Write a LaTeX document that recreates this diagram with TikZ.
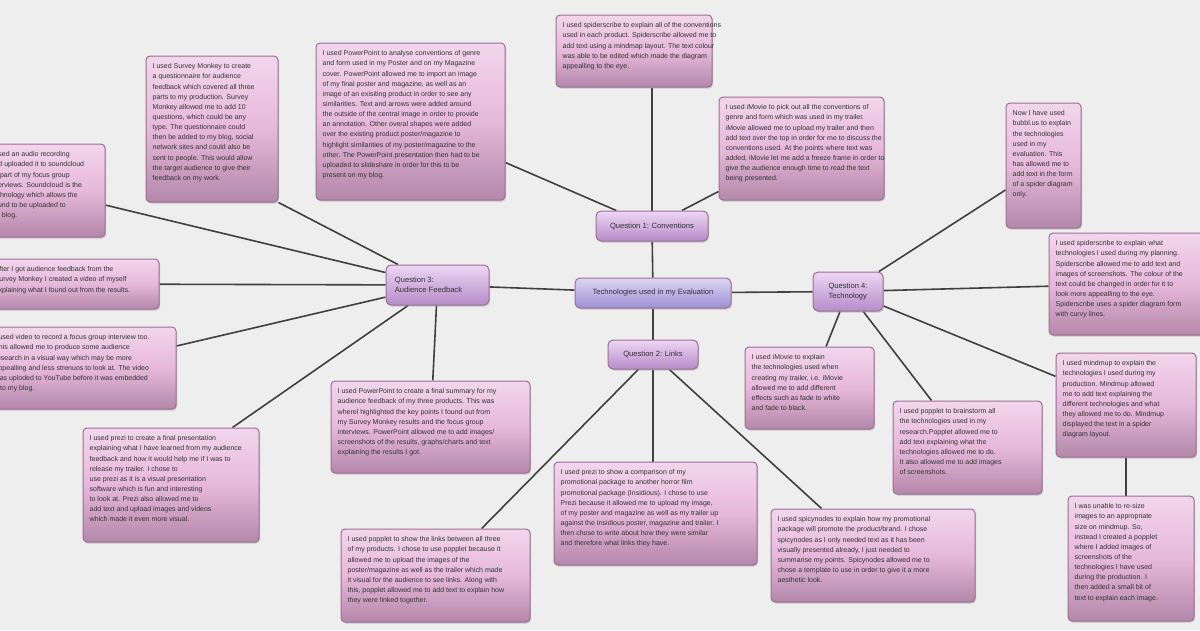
\documentclass[tikz,border=0pt]{standalone}
\usepackage{fontspec}
\setmainfont{Liberation Sans}
\usetikzlibrary{shadows,calc}
\pgfdeclarelayer{back}
\pgfdeclarelayer{edges}
\pgfsetlayers{back,edges,main}
\definecolor{bg}{HTML}{EEEEEE}
\definecolor{edgec}{HTML}{404040}
\definecolor{boxtop}{HTML}{F2D6EC}
\definecolor{boxmid}{HTML}{E6B8DA}
\definecolor{boxbot}{HTML}{B488AA}
\definecolor{boxdraw}{HTML}{9E6E92}
\definecolor{qtop}{HTML}{EED6F4}
\definecolor{qbot}{HTML}{B58CC8}
\definecolor{ctop}{HTML}{DCD6F6}
\definecolor{cbot}{HTML}{9C90D2}
\tikzset{
 x=1pt,y=-1pt,
 box/.style={draw=boxdraw,line width=1pt,rounded corners=4pt,top color=boxtop,bottom color=boxbot,middle color=boxmid,
   drop shadow={shadow xshift=1pt,shadow yshift=-1.5pt,opacity=0.35},inner sep=0pt},
 qbox/.style={draw=boxdraw,line width=1pt,rounded corners=5pt,top color=qtop,bottom color=qbot,
   drop shadow={shadow xshift=1pt,shadow yshift=-1.5pt,opacity=0.35},inner sep=0pt,font=\fontsize{7.6}{10.4}\selectfont,text=black!80,align=left},
 cbox/.style={qbox,top color=ctop,bottom color=cbot},
 txt/.style={anchor=north west,align=left,inner sep=0pt,font=\fontsize{7.0}{10.15}\selectfont,text=black!80},
 link/.style={draw=edgec,line width=1.6pt},
}
\newcommand{\mybox}[6]{% name x0 y0 x1 y1 text
 \node[box,minimum width={#4-#2},minimum height={#5-#3}] (#1) at ({(#2+#4)/2},{(#3+#5)/2}) {};
 \node[txt] at ($(#1.north west)+(7,8)$) {#6};}
\begin{document}
\begin{tikzpicture}
\begin{pgfonlayer}{back}
\fill[bg] (0,0) rectangle (1200,630);
\end{pgfonlayer}
\useasboundingbox (0,0) rectangle (1200,630);
\clip (0,0) rectangle (1200,630);
% topic nodes
\node[cbox,minimum width=156,minimum height=30] (c) at (653,293) {Technologies used in my Evaluation};
\node[qbox,minimum width=112,minimum height=30] (q1) at (652,226) {Question 1: Conventions};
\node[qbox,minimum width=90,minimum height=29] (q2) at (653,354.5) {Question 2: Links};
\node[qbox,minimum width=103,minimum height=40] (q3) at (437.5,285) {\hspace*{-20pt}Question 3:\\\hspace*{-20pt}Audience Feedback\hspace*{-2pt}};
\node[qbox,minimum width=70,minimum height=39] (q4) at (848,291.5) {Question 4:\\Technology};
% boxes
\mybox{b1}{146}{56}{278}{202}{I used Survey Monkey to create\\a questionnaire for audience\\feedback which covered all three\\parts to my production. Survey\\Monkey allowed me to add 10\\questions, which could be any\\type. The questionnaire could\\then be added to my blog, social\\network sites and could also be\\sent to people. This would allow\\the target audience to give their\\feedback on my work.}
\mybox{b2}{316}{43}{505}{200}{I used PowerPoint to analyse conventions of genre\\and form used in my Poster and on my Magazine\\cover. PowerPoint allowed me to import an image\\of my final poster and magazine, as well as an\\image of an exisiting product in order to see any\\similarities. Text and arrows were added around\\the outside of the central image in order to provide\\an annotation. Other overal shapes were added\\over the existing product poster/magazine to\\highlight similarities of my poster/magazine to the\\other. The PowerPoint presentation then had to be\\uploaded to slideshare in order for this to be\\present on my blog.}
\mybox{b3}{556}{15}{712}{87}{I used spiderscribe to explain all of the conventions\\used in each product. Spiderscribe allowed me to\\add text using a mindmap layout. The text colour\\was able to be edited which made the diagram\\appealling to the eye.}
\mybox{b4}{719}{97}{884}{200}{I used iMovie to pick out all the conventions of\\genre and form which was used in my trailer.\\iMovie allowed me to upload my trailer and then\\add text over the top in order for me to discuss the\\conventions used. At the points where text was\\added, iMovie let me add a freeze frame in order to\\give the audience enough time to read the text\\being presented.}
\mybox{b5}{1006}{103}{1081}{228}{Now I have used\\bubbl.us to explain\\the technologies\\used in my\\evaluation. This\\has allowed me to\\add text in the form\\of a spider diagram\\only.}
\mybox{b6}{1049}{233}{1215}{335}{I used spiderscribe to explain what\\technologies I used during my planning.\\Spiderscribe allowed me to add text and\\images of screenshots. The colour of the\\text could be changed in order for it to\\look more appealling to the eye.\\Spiderscribe uses a spider diagram form\\with curvy lines.}
\mybox{b7}{-16}{144}{105}{237}{I used an audio recording\\and uploaded it to soundcloud\\as part of my focus group\\interviews. Soundcloud is the\\technology which allows the\\sound to be uploaded to\\my blog.}
\mybox{b8}{-12}{259}{159}{309}{After I got audience feedback from the\\Survey Monkey I created a video of myself\\explaining what I found out from the results.}
\mybox{b9}{-12}{327}{176}{409}{I used video to record a focus group interview too.\\This allowed me to produce some audience\\research in a visual way which may be more\\appealling and less strenuos to look at. The video\\was uploded to YouTube before it was embedded\\into my blog.}
\mybox{b10}{331}{381}{530}{473}{I used PowerPoint to create a final summary for my\\audience feedback of my three products. This was\\wherel highlighted the key points I found out from\\my Survey Monkey results and the focus group\\interviews. PowerPoint allowed me to add images/\\screenshots of the results, graphs/charts and text\\explaining the results I got.}
\mybox{b11}{83}{428}{259}{542}{I used prezi to create a final presentation\\explaining what I have learned from my audience\\feedback and how it would help me if I was to\\release my trailer. I chose to\\use prezi as it is a visual presentation\\software which is fun and interesting\\to look at. Prezi also allowed me to\\add text and upload images and videos\\which made it even more visual.}
\mybox{b12}{341}{529}{530}{622}{I used popplet to show the links between all three\\of my products. I chose to use popplet because it\\allowed me to upload the images of the\\poster/magazine as well as the trailer which made\\it visual for the audience to see links. Along with\\this, popplet allowed me to add text to explain how\\they were linked together.}
\mybox{b13}{554}{462}{757}{565}{I used prezi to show a comparison of my\\promotional package to another horror film\\promotional package (Insidious). I chose to use\\Prezi because it allowed me to upload my image,\\of my poster and magazine as well as my trailer up\\against the Insidious poster, magazine and trailer. I\\then chose to write about how they were similar\\and therefore what links they have.}
\mybox{b14}{771}{509}{975}{602}{I used spicynodes to explain how my promotional\\package will promote the product/brand. I chose\\spicynodes as I only needed text as it has been\\visually presented already, I just needed to\\summarise my points. Spicynodes allowed me to\\chose a template to use in order to give it a more\\aesthetic look.}
\mybox{b15}{745}{347}{874}{429}{I used iMovie to explain\\the technologies used when\\creating my trailer, i.e. iMovie\\allowed me to add different\\effects such as fade to white\\and fade to black.}
\mybox{b16}{893}{401}{1042}{494}{I used popplet to brainstorm all\\the technologies used in my\\research.Popplet allowed me to\\add text explaining what the\\technologies allowed me to do.\\It also allowed me to add images\\of screenshots.}
\mybox{b17}{1056}{353}{1196}{457}{I used mindmup to explain the\\technologies I used during my\\production. Mindmup allowed\\me to add text explaining the\\different technologies and what\\they allowed me to do. Mindmup\\displayed the text in a spider\\diagram layout.}
\mybox{b18}{1068}{496}{1194}{621}{I was unable to re-size\\images to an appropriate\\size on mindmup. So,\\instead I created a popplet\\where I added images of\\screenshots of the\\technologies I have used\\during the production. I\\then added a small bit of\\text to explain each image.}
% connectors
\begin{pgfonlayer}{edges}
\draw[link] (c) -- (q1);
\draw[link] (c) -- (q2);
\draw[link] (c) -- (q3);
\draw[link] (c) -- (q4);
\draw[link] (q1) -- (q1 |- b3.south);
\draw[link] (q1) -- (b2);
\draw[link] (q1) -- (b4);
\draw[link] (q3) -- (b1.south east);
\draw[link] (q3) -- (b7);
\draw[link] (q3) -- (b8);
\draw[link] (q3) -- (b9);
\draw[link] (q3) -- (b10);
\draw[link] (q3) -- ([xshift=-27pt]b11.north east);
\draw[link] (q2) -- (b12);
\draw[link] (q2) -- (q2 |- b13.north);
\draw[link] (q2) -- (b14);
\draw[link] (q4) -- (b5);
\draw[link] (q4) -- (b6);
\draw[link] (q4) -- (b15);
\draw[link] (q4) -- (b16);
\draw[link] (q4) -- (b17);
\draw[link] (b17) -- (b17 |- b18.north);
\end{pgfonlayer}
\end{tikzpicture}
\end{document}
